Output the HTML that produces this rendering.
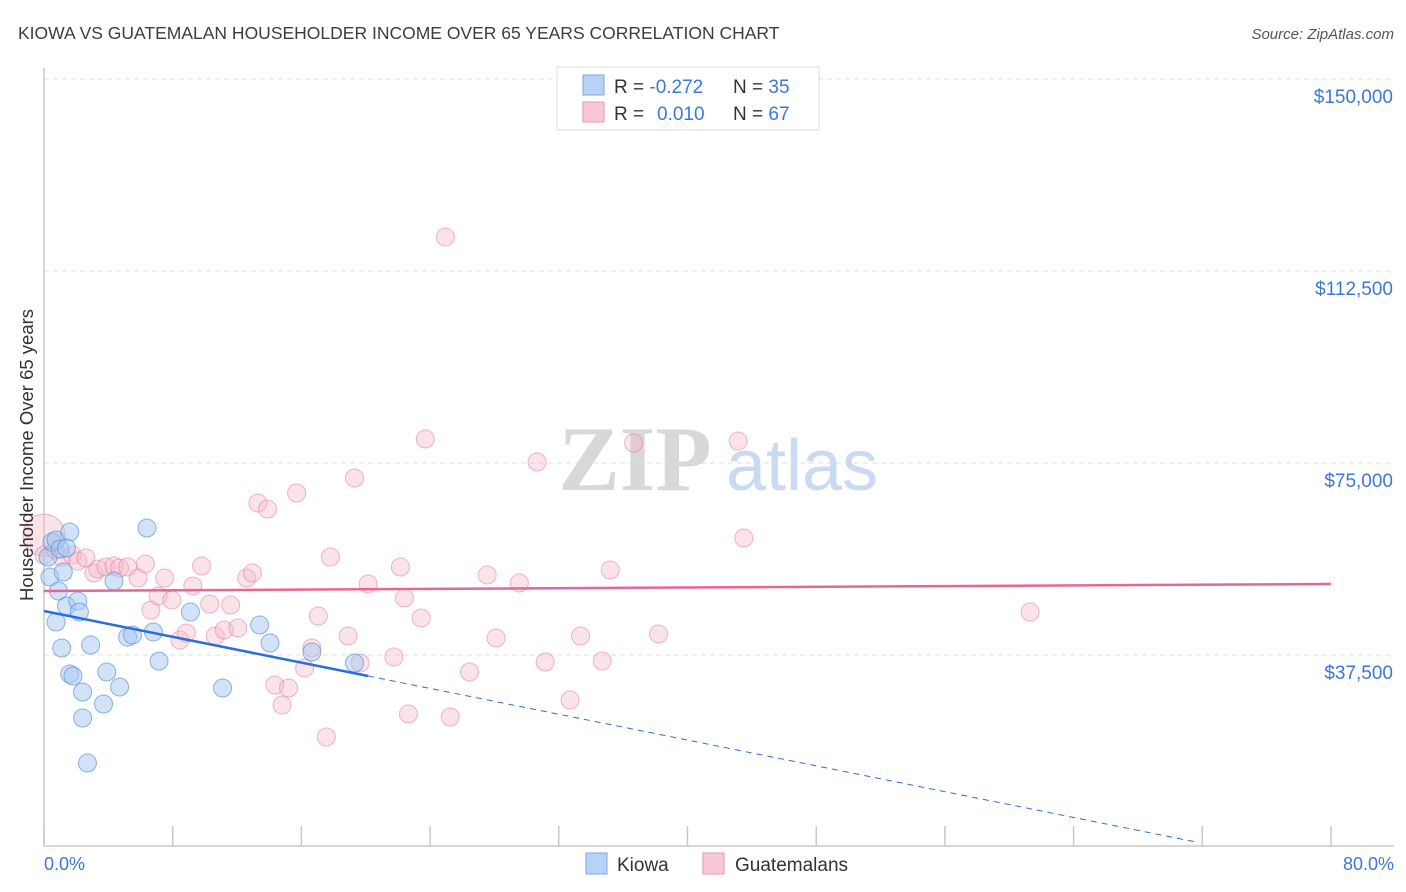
<!DOCTYPE html>
<html><head><meta charset="utf-8"><style>
body{margin:0;background:#fff;font-family:"Liberation Sans",sans-serif;}
#wrap{position:relative;width:1406px;height:892px;overflow:hidden;}
</style></head><body>
<div id="wrap">
<svg id="chart" width="1406" height="892" xmlns="http://www.w3.org/2000/svg">
<text x="18" y="39" font-size="17.5" fill="#3d3d3d">KIOWA VS GUATEMALAN HOUSEHOLDER INCOME OVER 65 YEARS CORRELATION CHART</text>
<text x="1394" y="39" font-size="15" fill="#555" font-style="italic" text-anchor="end">Source: ZipAtlas.com</text>
<g>
<text x="635" y="490" font-size="92" fill="#d8d8d8" text-anchor="middle" font-family="Liberation Serif,serif" font-weight="bold">ZIP</text>
<text x="802" y="490" font-size="72" fill="#c9daf2" text-anchor="middle">atlas</text>
</g>
<g id="grid"></g>
<g id="axes"></g>
<g id="points"></g>
<g id="trends"></g>
<text transform="translate(33,455) rotate(-90)" font-size="18.5" fill="#333" text-anchor="middle">Householder Income Over 65 years</text>
<g>
<rect x="557" y="67" width="262" height="63" fill="#fff" stroke="#ddd"/>
<rect x="583" y="75" width="21" height="20" fill="#b7d2f5" stroke="#7aa7e6"/>
<rect x="583" y="102" width="21" height="20" fill="#f9c8d7" stroke="#eb93b0"/>
<text x="614" y="93" font-size="19" fill="#333">R = <tspan fill="#3b78d8">-0.272</tspan><tspan x="733">N = </tspan><tspan fill="#3b78d8">35</tspan></text>
<text x="614" y="120" font-size="19" fill="#333">R = <tspan x="657" fill="#3b78d8">0.010</tspan><tspan x="733">N = </tspan><tspan fill="#3b78d8">67</tspan></text>
</g>
<g>
<rect x="586" y="853" width="21" height="21" fill="#b7d2f5" stroke="#7aa7e6"/>
<text x="617" y="871" font-size="19" fill="#333">Kiowa</text>
<rect x="703" y="853" width="21" height="21" fill="#f9c8d7" stroke="#eb93b0"/>
<text x="735" y="871" font-size="19" fill="#333">Guatemalans</text>
</g>
</svg>
</div>
<script>
const yTicks=[37500,75000,112500,150000];
const yTickLabels=["$37,500","$75,000","$112,500","$150,000"];
const xTickLabels=["0.0%","80.0%"];
const kiowaX=[0.25,0.37,0.5,0.75,1.0,1.2,1.6,1.4,0.9,0.75,1.4,2.1,2.2,1.1,1.6,1.8,2.4,2.4,2.9,2.7,3.7,3.9,4.7,4.35,5.2,5.5,6.4,6.8,7.15,9.1,11.1,13.4,14.05,16.65,19.3];
const kiowaY=[56640,52730,59570,59960,58200,53710,61520,58400,50000,43950,47070,48050,45900,38870,33790,33400,30270,25200,39450,16400,27930,34180,31250,51950,41000,41400,62300,42000,36300,45900,31050,43350,39840,38090,35940];
const guatX=[0,0,0.7,1.1,1.75,2.1,2.6,3.1,3.35,3.85,4.35,4.7,5.2,5.85,6.3,6.65,7.1,7.5,7.95,8.45,8.85,9.25,9.8,10.3,10.65,11.2,11.6,12.05,12.6,12.95,13.3,13.9,14.35,14.8,15.2,15.7,16.2,16.65,17.05,17.55,17.8,18.9,19.3,19.65,20.15,21.75,22.15,22.4,22.65,23.45,23.7,24.95,25.25,26.45,27.55,28.1,29.55,30.65,31.15,32.7,33.35,34.7,35.2,36.65,38.2,43.15,43.5,61.3];
const guatY=[60900,57000,58000,56640,57030,55860,56440,53510,54300,54680,54880,54490,54680,52540,55270,46290,49020,52540,48240,40430,41800,50980,54880,47460,41210,42380,47260,42770,52540,53510,67180,66010,31640,27730,31050,69140,34960,38870,45110,21480,56640,41210,72070,35940,51370,37110,54680,48630,25970,44720,79680,119130,25390,34180,53120,40820,51560,75190,36130,28710,41210,36330,54100,78900,41600,79290,60350,45900];
const kiowaTrend=[46090,-630];
const kiowaSolidEnd=20.15, kiowaDashEnd=71.7;
const guatTrend=[50000,17];
const NS="http://www.w3.org/2000/svg";
const sx=v=>44+v/80*1287;
const sy=v=>847-v/37500*192;
function mk(tag,attrs,parent){const e=document.createElementNS(NS,tag);for(const k in attrs)e.setAttribute(k,attrs[k]);parent.appendChild(e);return e;}
const grid=document.getElementById('grid'),axes=document.getElementById('axes'),pts=document.getElementById('points'),tr=document.getElementById('trends');
yTicks.forEach((t,i)=>{
 const l=mk('line',{x1:44,x2:1394,y1:sy(t),y2:sy(t),stroke:'#ddd','stroke-dasharray':'5,4'},grid);
 
 
 const tx=mk('text',{x:1393,y:sy(t)+24,'font-size':19,fill:'#3b78d8','text-anchor':'end'},axes);
 tx.textContent=yTickLabels[i];
 
 
});
const ya=mk('line',{x1:44,x2:44,y1:68,y2:846,stroke:'#c8c8c8','stroke-width':1.5},axes);


const xa=mk('line',{x1:44,x2:1394,y1:846,y2:846,stroke:'#c8c8c8','stroke-width':1.5},axes);


for(let i=0;i<=10;i++){const t=mk('line',{x1:sx(i*8),x2:sx(i*8),y1:826,y2:846,stroke:'#c8c8c8','stroke-width':1.5},axes);
 
 }
[[0,'start',44],[80,'end',1394]].forEach((d,i)=>{const t=mk('text',{x:d[2],y:870,'font-size':18,fill:'#3b78d8','text-anchor':d[1]},axes);t.textContent=xTickLabels[i];
 
 });
guatX.forEach((x,i)=>{const c=mk('circle',{cx:sx(x),cy:sy(guatY[i]),r:(i==0?21:9),fill:'#f5b8cb','fill-opacity':0.4,stroke:'#e8799c','stroke-opacity':0.55},pts);
 
 });
kiowaX.forEach((x,i)=>{const c=mk('circle',{cx:sx(x),cy:sy(kiowaY[i]),r:9,fill:'#a8c8f0','fill-opacity':0.5,stroke:'#4f8ddd','stroke-opacity':0.65},pts);
 
 });
const ky=x=>kiowaTrend[0]+kiowaTrend[1]*x, gy=x=>guatTrend[0]+guatTrend[1]*x;
const kl=mk('line',{x1:sx(0),y1:sy(ky(0)),x2:sx(kiowaSolidEnd),y2:sy(ky(kiowaSolidEnd)),stroke:'#2a6fd6','stroke-width':2.5},tr);


const kd=mk('line',{x1:sx(kiowaSolidEnd),y1:sy(ky(kiowaSolidEnd)),x2:sx(kiowaDashEnd),y2:sy(ky(kiowaDashEnd)),stroke:'#2a6fd6','stroke-width':1,'stroke-dasharray':'6,5'},tr);


const gl=mk('line',{x1:sx(0),y1:sy(gy(0)),x2:sx(80),y2:sy(gy(80)),stroke:'#e8668f','stroke-width':2.5},tr);


</script>
</body></html>
